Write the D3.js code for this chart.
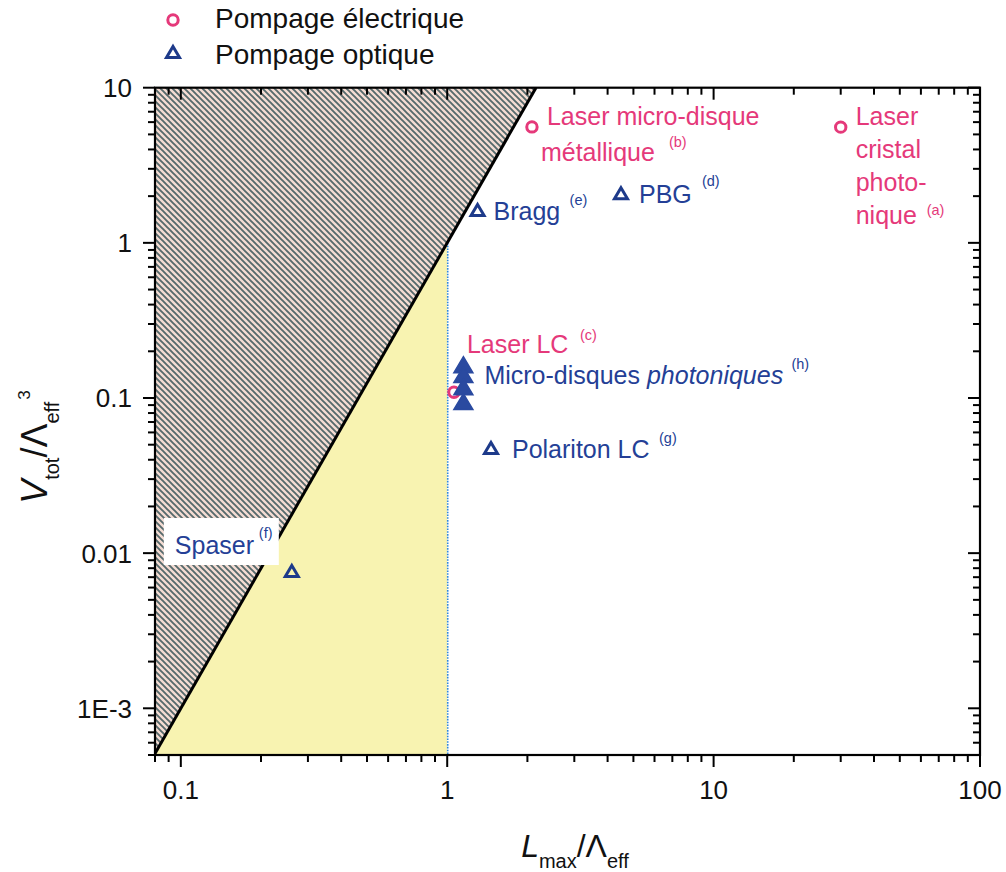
<!DOCTYPE html>
<html><head><meta charset="utf-8">
<script src="https://cdn.jsdelivr.net/npm/d3@7/dist/d3.min.js"></script>
<style>
body{margin:0;background:#fff;}
svg{display:block;font-family:"Liberation Sans",Arial,sans-serif;}
</style></head>
<body><svg id="c" width="1006" height="872"></svg>
<script>
// ---------- data ----------
const xDomain = [0.08, 100];
const yDomain = [5e-4, 10];
const xMajorTicks = [0.1, 1, 10, 100];
const xTickLabels = ["0.1", "1", "10", "100"];
const yMajorTicks = [1e-3, 0.01, 0.1, 1, 10];
const yTickLabels = ["1E-3", "0.01", "0.1", "1", "10"];
// limit line V = L^3 (end points)
const limitL = [0.08, 2.154];
const limitV = [5.12e-4, 10];
// electrical pumping (open circles)
const elecNames = ["cristal", "metal", "lc"];
const elecL = [30, 2.08, 1.06];
const elecV = [5.57, 5.59, 0.109];
// optical pumping (open triangles)
const optNames = ["bragg", "pbg", "polariton", "spaser"];
const optL = [1.30, 4.49, 1.46, 0.261];
const optV = [1.63, 2.09, 0.0476, 0.00767];
// photonic micro-disks (filled triangles)
const diskL = [1.15, 1.15, 1.15, 1.15];
const diskV = [0.164, 0.1415, 0.118, 0.0948];

const pink = "#e5397a", blue = "#243f96", mBlue = "#1d3a8a";

// ---------- layout ----------
const svg = d3.select("#c");
const L = 155, R = 980, T = 87.7, B = 755;
const x = d3.scaleLog().domain(xDomain).range([L, R]);
const y = d3.scaleLog().domain(yDomain).range([B, T]);

const defs = svg.append("defs");
defs.append("clipPath").attr("id", "clip").append("rect")
  .attr("x", L).attr("y", T).attr("width", R - L).attr("height", B - T);
const pat = defs.append("pattern").attr("id", "hatch").attr("patternUnits", "userSpaceOnUse")
  .attr("width", 6).attr("height", 6);
pat.append("rect").attr("width", 6).attr("height", 6).attr("fill", "#f4dcd3");
pat.append("path").attr("d", "M-1,-1 L7,7 M-1,5 L1,7 M5,-1 L7,1")
  .attr("stroke", "#566a6c").attr("stroke-width", 1.9);

const plot = svg.append("g").attr("clip-path", "url(#clip)");

// hatched (forbidden) region
const hatchPts = [[limitL[0], limitV[0]], [limitL[1], limitV[1]], [xDomain[0], yDomain[1]]];
plot.append("path")
  .attr("d", d3.line().x(d => x(d[0])).y(d => y(d[1]))(hatchPts) + "Z")
  .attr("fill", "url(#hatch)");

// yellow region: below the line, L <= 1
const yellowPts = [[limitL[0], limitV[0]], [1, 1], [1, yDomain[0]], [xDomain[0], yDomain[0]]];
plot.append("path")
  .attr("d", d3.line().x(d => x(d[0])).y(d => y(d[1]))(yellowPts) + "Z")
  .attr("fill", "#f8f3b1");

// dotted vertical at L = 1
plot.append("line").attr("x1", x(1) + 0.5).attr("x2", x(1) + 0.5).attr("y1", y(1)).attr("y2", y(yDomain[0]))
  .attr("stroke", "#2f86dc").attr("stroke-width", 1.6).attr("stroke-dasharray", "1.6,1.2");

// limit line
plot.append("line").attr("x1", x(limitL[0])).attr("y1", y(limitV[0]))
  .attr("x2", x(limitL[1])).attr("y2", y(limitV[1]))
  .attr("stroke", "#000").attr("stroke-width", 3);

// ---------- axes ----------
function minorTicks(dom) {
  const out = [];
  for (let e = -5; e <= 3; e++) for (let m = 1; m < 10; m++) {
    const v = m * Math.pow(10, e);
    if (m !== 1 && v >= dom[0] * 0.999 && v <= dom[1] * 1.001) out.push(v);
  }
  return out;
}
const xMinor = minorTicks(xDomain), yMinor = minorTicks(yDomain);
const axG = svg.append("g").attr("stroke", "#000").attr("stroke-width", 2);

function ticks(vals, fn, len) {
  axG.selectAll(null).data(vals).enter().append("line").each(function(d){ fn(d3.select(this), d, len); });
}
// bottom (outward)
ticks(xMajorTicks, (s, d, l) => s.attr("x1", x(d)).attr("x2", x(d)).attr("y1", B).attr("y2", B + l), 12);
ticks(xMinor, (s, d, l) => s.attr("x1", x(d)).attr("x2", x(d)).attr("y1", B).attr("y2", B + l), 7);
// top (inward)
ticks(xMajorTicks, (s, d, l) => s.attr("x1", x(d)).attr("x2", x(d)).attr("y1", T).attr("y2", T + l), 12);
ticks(xMinor, (s, d, l) => s.attr("x1", x(d)).attr("x2", x(d)).attr("y1", T).attr("y2", T + l), 7);
// left (outward)
ticks(yMajorTicks, (s, d, l) => s.attr("y1", y(d)).attr("y2", y(d)).attr("x1", L).attr("x2", L - l), 12);
ticks(yMinor, (s, d, l) => s.attr("y1", y(d)).attr("y2", y(d)).attr("x1", L).attr("x2", L - l), 7);
// right (inward)
ticks(yMajorTicks, (s, d, l) => s.attr("y1", y(d)).attr("y2", y(d)).attr("x1", R).attr("x2", R - l), 12);
ticks(yMinor, (s, d, l) => s.attr("y1", y(d)).attr("y2", y(d)).attr("x1", R).attr("x2", R - l), 7);

svg.append("rect").attr("x", L).attr("y", T).attr("width", R - L).attr("height", B - T)
  .attr("fill", "none").attr("stroke", "#000").attr("stroke-width", 2.2);

svg.append("g").selectAll("text").data(xMajorTicks).enter().append("text")
  .attr("x", d => x(d)).attr("y", B + 44).attr("text-anchor", "middle")
  .attr("font-size", 26).attr("fill", "#111").text((d, i) => xTickLabels[i]);
svg.append("g").selectAll("text").data(yMajorTicks).enter().append("text")
  .attr("x", L - 23).attr("y", d => y(d) + 9.5).attr("text-anchor", "end")
  .attr("font-size", 26).attr("fill", "#111").text((d, i) => yTickLabels[i]);

// axis titles
const xt = svg.append("text").attr("x", 575).attr("y", 857).attr("text-anchor", "middle").attr("fill", "#111");
xt.append("tspan").attr("font-size", 32).attr("font-style", "italic").text("L");
xt.append("tspan").attr("font-size", 20).attr("dy", 11).text("max");
xt.append("tspan").attr("font-size", 32).attr("dy", -11).text("/\u039B");
xt.append("tspan").attr("font-size", 20).attr("dy", 11).text("eff");

const yt = svg.append("text").attr("transform", "translate(47,447) rotate(-90)")
  .attr("text-anchor", "middle").attr("fill", "#111");
yt.append("tspan").attr("font-size", 36).attr("font-style", "italic").text("V");
yt.append("tspan").attr("font-size", 20).attr("dy", 12).text("tot");
yt.append("tspan").attr("font-size", 36).attr("dy", -12).text("/\u039B");
yt.append("tspan").attr("font-size", 20).attr("dy", 12).text("eff");
yt.append("tspan").attr("font-size", 17).attr("dy", -29).attr("dx", 2).text("3");

// ---------- markers ----------
function triPath(w, h) { return `M0,${-h/2} L${w/2},${h/2} L${-w/2},${h/2} Z`; }
const mk = svg.append("g");
mk.selectAll("circle.e").data(elecL).enter().append("circle")
  .attr("cx", d => x(d)).attr("cy", (d, i) => y(elecV[i])).attr("r", 5.2)
  .attr("fill", "none").attr("stroke", pink).attr("stroke-width", 3);
mk.selectAll("path.o").data(optL).enter().append("path")
  .attr("transform", (d, i) => `translate(${x(d)},${y(optV[i])})`)
  .attr("d", triPath(13, 11)).attr("fill", "none").attr("stroke", mBlue)
  .attr("stroke-width", 3).attr("stroke-linejoin", "miter");
mk.selectAll("path.f").data(diskL).enter().append("path")
  .attr("transform", (d, i) => `translate(${x(d)},${y(diskV[i])})`)
  .attr("d", triPath(19, 16)).attr("fill", "#2a4aa0").attr("stroke", "#2a4aa0").attr("stroke-width", 1.5);

// ---------- annotations ----------
const ann = svg.append("g").attr("font-size", 25);
function label(px, py, lines, color, sup, supDx, supDy, bg, fs) {
  const g = ann.append("g");
  if (fs) g.attr("font-size", fs);
  if (bg) g.append("rect").attr("x", px + bg[0]).attr("y", py + bg[1]).attr("width", bg[2]).attr("height", bg[3]).attr("fill", "#fff");
  lines.forEach(ln => {
    const t = g.append("text").attr("x", px + ln.dx).attr("y", py + ln.dy).attr("fill", color);
    ln.parts.forEach(p => t.append("tspan").attr("font-style", p.it ? "italic" : null).text(p.t));
  });
  g.append("text").attr("x", px + supDx).attr("y", py + supDy).attr("font-size", 14.5).attr("fill", color).text(sup);
}
const P = (i) => [x(elecL[i]), y(elecV[i])];
const O = (i) => [x(optL[i]), y(optV[i])];
// (b) métallique
let p = P(1);
label(p[0], p[1], [{dx: 15, dy: -2, parts: [{t: "Laser micro-disque"}]}, {dx: 9, dy: 34, parts: [{t: "métallique"}]}], pink, "(b)", 137, 20);
// (a) cristal photonique
p = P(0);
label(p[0], p[1], [{dx: 15, dy: -2, parts: [{t: "Laser"}]}, {dx: 15, dy: 31, parts: [{t: "cristal"}]},
  {dx: 15, dy: 64, parts: [{t: "photo-"}]}, {dx: 15, dy: 97, parts: [{t: "nique"}]}], pink, "(a)", 86, 88);
// (c) laser LC
p = P(2);
label(p[0], p[1], [{dx: 13, dy: -39, parts: [{t: "Laser LC"}]}], pink, "(c)", 126, -52);
// (h) micro-disques photoniques
p = [x(diskL[0]), y(diskV[1])];
label(p[0], p[1], [{dx: 21, dy: 9, parts: [{t: "Micro-disques "}, {t: "photoniques", it: true}]}], blue, "(h)", 328, -6);
// (e) Bragg
p = O(0);
label(p[0], p[1], [{dx: 16, dy: 10, parts: [{t: "Bragg"}]}], blue, "(e)", 92, -5);
// (d) PBG
p = O(1);
label(p[0], p[1], [{dx: 18, dy: 10, parts: [{t: "PBG"}]}], blue, "(d)", 81, -7);
// (g) polariton LC
p = O(2);
label(p[0], p[1], [{dx: 21, dy: 10, parts: [{t: "Polariton LC"}]}], blue, "(g)", 168, -5);
// (f) spaser
p = O(3);
label(p[0], p[1], [{dx: -117, dy: -17, parts: [{t: "Spaser"}]}], blue, "(f)", -33, -33, [-128, -53, 115, 47]);

// ---------- legend ----------
const lg = svg.append("g");
lg.append("circle").attr("cx", 173).attr("cy", 20).attr("r", 5.2).attr("fill", "none").attr("stroke", pink).attr("stroke-width", 3);
lg.append("path").attr("transform", "translate(173,52)").attr("d", triPath(13, 11)).attr("fill", "none").attr("stroke", mBlue).attr("stroke-width", 3);
lg.append("text").attr("x", 215).attr("y", 28).attr("font-size", 28).attr("fill", "#111").text("Pompage électrique");
lg.append("text").attr("x", 215).attr("y", 64).attr("font-size", 28).attr("fill", "#111").text("Pompage optique");
</script></body></html>
